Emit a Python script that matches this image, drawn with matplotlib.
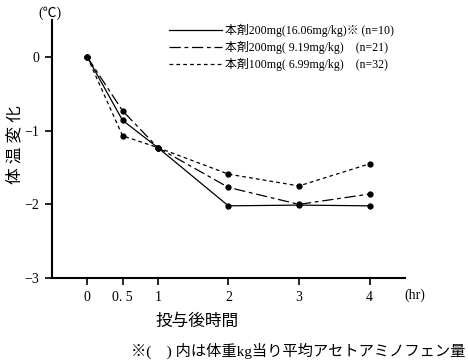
import matplotlib
matplotlib.use("Agg")
import matplotlib.pyplot as plt

plt.rcParams['font.family'] = ['Liberation Serif', 'Noto Sans CJK JP']

times = [0, 0.5, 1, 2, 3, 4]
series_labels = [
    "本剤200mg(16.06mg/kg)※ (n=10)",
    "本剤200mg( 9.19mg/kg)    (n=21)",
    "本剤100mg( 6.99mg/kg)    (n=32)",
]
solid = [0, -0.86, -1.23, -2.02, -2.01, -2.02]
dashdot = [0, -0.73, -1.23, -1.77, -2.00, -1.86]
dotted = [0, -1.07, -1.23, -1.59, -1.75, -1.45]
xticks = [0, 0.5, 1, 2, 3, 4]
xticklabels = ["0", "0. 5", "1", "2", "3", "4"]
yticks = [0, -1, -2, -3]
yticklabels = ["0", "−1", "−2", "−3"]

fig = plt.figure(figsize=(4.68, 3.64), dpi=100)
ax = fig.add_axes([0.111, 0.236, 0.754, 0.709])

styles = [dict(linestyle='-'), dict(dashes=(9, 3, 3, 3)), dict(dashes=(3, 2.5))]
for vals, lab, st in zip([solid, dashdot, dotted], series_labels, styles):
    ax.plot(times, vals, color='black', lw=0.9, marker='o', ms=3.5, label=lab, **st)

ax.set_xlim(-0.5, 4.5)
ax.set_ylim(-3, 0.5)
ax.set_xticks(xticks)
ax.set_xticklabels(xticklabels, fontsize=10)
ax.set_yticks(yticks)
ax.set_yticklabels(yticklabels, fontsize=10)
for s in ['top', 'right']:
    ax.spines[s].set_visible(False)
ax.spines['left'].set_linewidth(1.5)
ax.spines['bottom'].set_linewidth(1.5)
ax.tick_params(direction='out', length=5, width=1.2, pad=4)

handles, labels = ax.get_legend_handles_labels()
leg = ax.legend(handles, labels, loc='upper left', bbox_to_anchor=(0.30, 1.025),
                frameon=False, fontsize=8.6, handlelength=4.5, handletextpad=0.2,
                labelspacing=0.3)
for h in leg.legend_handles:
    h.set_marker('')

fig.text(0.107, 0.965, "(℃)", ha='center', va='center', fontsize=10)
fig.text(0.032, 0.604, "体 温 変 化", rotation=90, ha='center', va='center', fontsize=12)
fig.text(0.887, 0.19, "(hr)", ha='center', va='center', fontsize=10)
fig.text(0.42, 0.115, "投与後時間", ha='center', va='center', fontsize=12)
fig.text(0.995, 0.035, "※(　) 内は体重kg当り平均アセトアミノフェン量", ha='right', va='center', fontsize=11)

fig.savefig("out.png", dpi=100)
